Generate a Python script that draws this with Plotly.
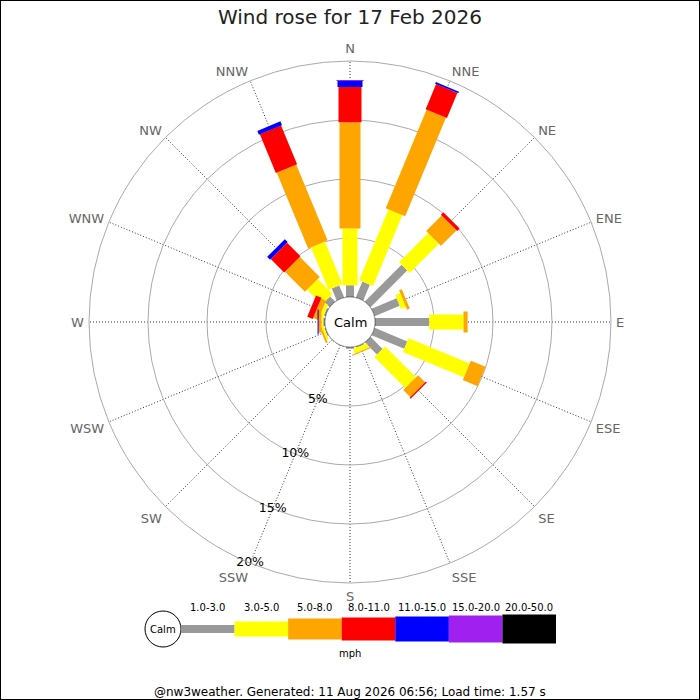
import plotly.graph_objects as go

# compass points, clockwise from north
directions = ['N', 'NNE', 'NE', 'ENE', 'E', 'ESE', 'SE', 'SSE',
              'S', 'SSW', 'SW', 'WSW', 'W', 'WNW', 'NW', 'NNW']
bearings = [i * 22.5 for i in range(16)]

# speed bands (mph)
bands = ['1.0-3.0', '3.0-5.0', '5.0-8.0', '8.0-11.0', '11.0-15.0', '15.0-20.0', '20.0-50.0']
band_colours = ['#999999', '#ffff00', '#ffa500', '#ff0000', '#0000ff', '#a020f0', '#000000']
band_widths = [8, 15, 21, 23, 25, 27, 29]

# % of time in each band, per direction (N..NNW)
pct_1_3 = [1.0, 1.45, 4.4, 2.3, 4.6, 3.0, 1.45, 0.1, 0.15, 0, 0, 0.1, 0.15, 0.15, 0.6, 1.1]
pct_3_5 = [4.8, 6.5, 3.5, 0.45, 2.9, 5.6, 3.7, 0.4, 0, 0, 0, 0.2, 0.15, 0.3, 1.8, 3.9]
pct_5_8 = [9.0, 9.05, 1.85, 0.25, 0.35, 1.35, 0.85, 0.1, 0, 0, 0, 0.15, 0.2, 0.45, 2.4, 6.95]
pct_8_11 = [3.0, 2.3, 0.3, 0, 0, 0, 0.12, 0, 0, 0, 0, 0, 0.05, 0.5, 1.6, 3.55]
pct_11_15 = [0.5, 0.15, 0, 0, 0, 0, 0, 0, 0, 0, 0, 0, 0.08, 0, 0.35, 0.35]
pct_15_20 = [0.1, 0, 0, 0, 0, 0, 0, 0, 0, 0, 0, 0, 0, 0, 0, 0]
pct_20_50 = [0] * 16

radial_ticks = [5, 10, 15, 20]
radial_labels = ['5%', '10%', '15%', '20%']
label_bearing = 202.5  # radial labels sit along the SSW spoke

series = [pct_1_3, pct_3_5, pct_5_8, pct_8_11, pct_11_15, pct_15_20, pct_20_50]

fig = go.Figure()

# stacked bars drawn as thick radial line segments (constant pixel width)
base = [0.0] * 16
for vals, colour, w, name in zip(series, band_colours, band_widths, bands):
	r, th = [], []
	for i, v in enumerate(vals):
		if v > 0:
			r += [base[i], base[i] + v, None]
			th += [bearings[i], bearings[i], None]
		base[i] += v
	fig.add_trace(go.Scatterpolar(r=r, theta=th, mode='lines', name=name,
			line=dict(color=colour, width=w), showlegend=False, hoverinfo='skip'))

# calm circle outline at the hole edge
ring = list(range(0, 361, 3))
fig.add_trace(go.Scatterpolar(r=[0] * len(ring), theta=ring, mode='lines',
		line=dict(color='black', width=1), showlegend=False, hoverinfo='skip'))

# percentage labels centred on the grid circles
fig.add_trace(go.Scatterpolar(r=radial_ticks, theta=[label_bearing] * len(radial_ticks),
		mode='text', text=radial_labels, textposition='middle center',
		textfont=dict(size=12.5, color='black'), showlegend=False, hoverinfo='skip'))

fig.update_layout(
	width=700, height=700,
	margin=dict(l=0, r=0, t=0, b=0),
	paper_bgcolor='white',
	font=dict(family='DejaVu Sans', color='black'),
	title=dict(text='Wind rose for 17 Feb 2026', x=0.5, xanchor='center',
			y=(700 - 17) / 700, yanchor='middle',
			font=dict(size=20, color='#222222')),
	polar=dict(
		domain=dict(x=[89 / 700, 611 / 700], y=[117 / 700, 639 / 700]),
		bgcolor='white',
		hole=25 / 261,
		radialaxis=dict(range=[0, 20], tickmode='array', tickvals=radial_ticks,
				showticklabels=False, showline=False, ticks='',
				gridcolor='#aaaaaa', gridwidth=1),
		angularaxis=dict(rotation=90, direction='clockwise', tickmode='array',
				tickvals=bearings, ticktext=directions,
				ticks='outside', ticklen=2, tickcolor='rgba(0,0,0,0)',
				showline=True, linecolor='#aaaaaa', linewidth=1,
				gridcolor='#333333', griddash='1px,2px', gridwidth=1,
				tickfont=dict(size=13, color='#666666')),
	),
)

def px(x):
	return x / 700

def py(y):
	return (700 - y) / 700

def label(text, x, y, size):
	fig.add_annotation(text=text, x=px(x), y=py(y), xref='paper', yref='paper',
			xanchor='center', yanchor='middle', showarrow=False,
			font=dict(size=size, color='black'))

# centre label
label('Calm', 350, 322, 13)

# speed legend along the bottom
seg = (556 - 181) / len(bands)
cy = 629
fig.add_shape(type='circle', xref='paper', yref='paper',
		x0=px(163 - 18), x1=px(163 + 18), y0=py(cy + 18), y1=py(cy - 18),
		line=dict(color='black', width=1), fillcolor='white')
label('Calm', 163, cy, 10)
for k, (name, colour, w) in enumerate(zip(bands, band_colours, band_widths)):
	x0 = 181 + k * seg
	fig.add_shape(type='rect', xref='paper', yref='paper',
			x0=px(x0), x1=px(x0 + seg), y0=py(cy + w / 2), y1=py(cy - w / 2),
			line=dict(width=0), fillcolor=colour)
	label(name, x0 + seg / 2, 607, 10)
label('mph', 350, 653, 10)

label('@nw3weather. Generated: 11 Aug 2026 06:56; Load time: 1.57 s', 350, 692, 12)

# frame around the image
fig.add_shape(type='rect', xref='paper', yref='paper', x0=0, x1=1, y0=0, y1=1,
		line=dict(color='black', width=2))

fig.write_html('out.html', config={'displayModeBar': False},
		post_script="document.body.style.margin='0';")
